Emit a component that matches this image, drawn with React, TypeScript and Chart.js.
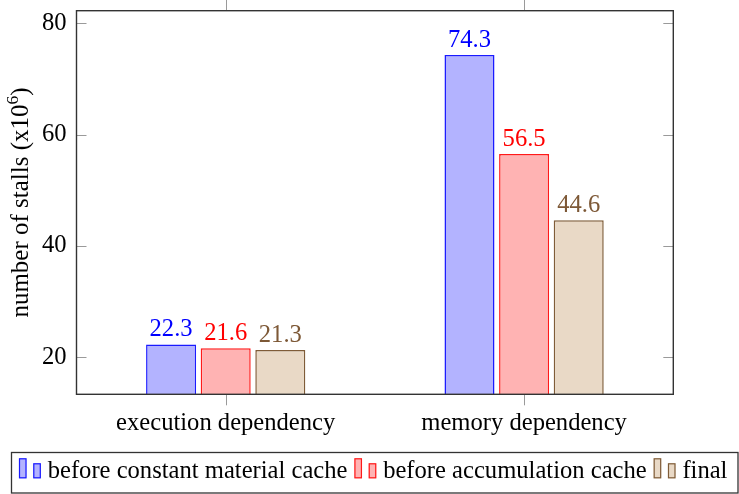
import React, { useEffect, useRef } from "react";
import { Chart, registerables } from "chart.js";

Chart.register(...registerables);

const categories = ["execution dependency", "memory dependency"];
const seriesNames = ["before constant material cache", "before accumulation cache", "final"];
const beforeConstantCache = [22.3, 74.3];
const beforeAccumulationCache = [21.6, 56.5];
const finalValues = [21.3, 44.6];
const yTickValues = [20, 40, 60, 80];

const FONT = "'Liberation Serif', 'DejaVu Serif', serif";
const FS = 24.6;

const fills = ["#b3b3ff", "#ffb3b3", "#e9d9c6"];
const borders = ["#1a1aff", "#ff1a1a", "#7f5c38"];
const labelColors = ["#0000ff", "#ff0000", "#7d5836"];

export default function App() {
  const ref = useRef<HTMLCanvasElement | null>(null);

  useEffect(() => {
    document.body.style.margin = "0";
    const canvas = ref.current!;
    const decorPlugin = {
      id: "decor",
      afterDatasetsDraw(chart: any) {
        const ctx = chart.ctx as CanvasRenderingContext2D;
        const { left, right, top, bottom } = chart.chartArea;
        ctx.save();
        // data labels
        ctx.font = `${FS}px ${FONT}`;
        ctx.textAlign = "center";
        ctx.textBaseline = "alphabetic";
        chart.data.datasets.forEach((ds: any, i: number) => {
          const meta = chart.getDatasetMeta(i);
          meta.data.forEach((el: any, j: number) => {
            ctx.fillStyle = labelColors[i];
            ctx.fillText((ds.data[j] as number).toFixed(1), el.x, el.y - 8.5);
          });
        });
        // tick marks
        ctx.strokeStyle = "#9a9a9a";
        ctx.lineWidth = 1;
        const ys = chart.scales.y;
        yTickValues.forEach((v) => {
          const py = Math.round(ys.getPixelForValue(v)) + 0.5;
          ctx.beginPath();
          ctx.moveTo(left, py);
          ctx.lineTo(left + 10, py);
          ctx.moveTo(right, py);
          ctx.lineTo(right - 10, py);
          ctx.stroke();
        });
        const xs = chart.scales.x;
        categories.forEach((_, k) => {
          const px = Math.round(xs.getPixelForValue(k)) + 0.5;
          ctx.beginPath();
          ctx.moveTo(px, bottom);
          ctx.lineTo(px, bottom + 11);
          ctx.moveTo(px, top);
          ctx.lineTo(px, 0);
          ctx.stroke();
        });
        // frame
        ctx.strokeStyle = "#333333";
        ctx.lineWidth = 1.4;
        ctx.strokeRect(left, top, right - left, bottom - top);

        // y title
        const cy = (top + bottom) / 2;
        const main = "number of stalls (x10";
        const sup = "6";
        const close = ")";
        const tfs = 25;
        ctx.font = `${tfs}px ${FONT}`;
        const wMain = ctx.measureText(main).width;
        const wClose = ctx.measureText(close).width;
        ctx.font = `${tfs * 0.7}px ${FONT}`;
        const wSup = ctx.measureText(sup).width;
        const total = wMain + wSup + wClose;
        ctx.translate(28, cy);
        ctx.rotate(-Math.PI / 2);
        ctx.fillStyle = "#000";
        ctx.textAlign = "left";
        ctx.font = `${tfs}px ${FONT}`;
        let x0 = -total / 2;
        ctx.fillText(main, x0, 0);
        x0 += wMain;
        ctx.font = `${tfs * 0.7}px ${FONT}`;
        ctx.fillText(sup, x0, -10);
        x0 += wSup;
        ctx.font = `${tfs}px ${FONT}`;
        ctx.fillText(close, x0, 0);
        ctx.restore();

        // legend
        ctx.save();
        ctx.strokeStyle = "#333333";
        ctx.lineWidth = 1.3;
        ctx.strokeRect(11.5, 452.5, 726.5, 40.5);
        ctx.font = `${FS}px ${FONT}`;
        ctx.textAlign = "left";
        ctx.textBaseline = "alphabetic";
        const base = 478.3;
        let lx = 19;
        seriesNames.forEach((name, i) => {
          ctx.fillStyle = fills[i];
          ctx.strokeStyle = borders[i];
          ctx.lineWidth = 1.2;
          ctx.fillRect(lx, base - 20, 7.5, 20);
          ctx.strokeRect(lx + 0.5, base - 19.5, 6.5, 19);
          ctx.fillRect(lx + 14.3, base - 15, 7.5, 15);
          ctx.strokeRect(lx + 14.8, base - 14.5, 6.5, 14);
          ctx.fillStyle = "#000";
          const tx = lx + 28.7;
          ctx.fillText(name, tx, base);
          lx = tx + ctx.measureText(name).width + 7;
        });
        ctx.restore();
      },
    };

    const chart = new Chart(canvas, {
      type: "bar",
      data: {
        labels: categories,
        datasets: [beforeConstantCache, beforeAccumulationCache, finalValues].map((d, i) => ({
          label: seriesNames[i],
          data: d,
          backgroundColor: fills[i],
          borderColor: borders[i],
          borderWidth: 1.5,
          borderSkipped: false,
          categoryPercentage: 0.549,
          barPercentage: 0.916,
        })),
      },
      options: {
        responsive: false,
        animation: false,
        devicePixelRatio: 1,
        layout: { padding: { left: 0, right: 65.7, top: 10.7, bottom: 48.7 } },
        plugins: { legend: { display: false }, tooltip: { enabled: false } },
        scales: {
          x: {
            grid: { display: false, drawTicks: false },
            border: { display: false },
            ticks: { font: { family: FONT, size: FS }, color: "#000", padding: 14, maxRotation: 0 },
            afterFit: (s: any) => {
              s.height = 51;
              s.paddingLeft = 0;
              s.paddingRight = 0;
            },
          },
          y: {
            min: 13.35,
            max: 82.26,
            grid: { display: false, drawTicks: false },
            border: { display: false },
            ticks: {
              stepSize: 20,
              includeBounds: false,
              font: { family: FONT, size: FS },
              color: "#000",
              padding: 10,
            },
            afterFit: (s: any) => {
              s.width = 76.5;
              s.paddingTop = 0;
              s.paddingBottom = 0;
            },
          },
        },
      },
      plugins: [decorPlugin],
    });
    return () => chart.destroy();
  }, []);

  return (
    <div style={{ width: 739, height: 494 }}>
      <canvas ref={ref} width={739} height={494} />
    </div>
  );
}
